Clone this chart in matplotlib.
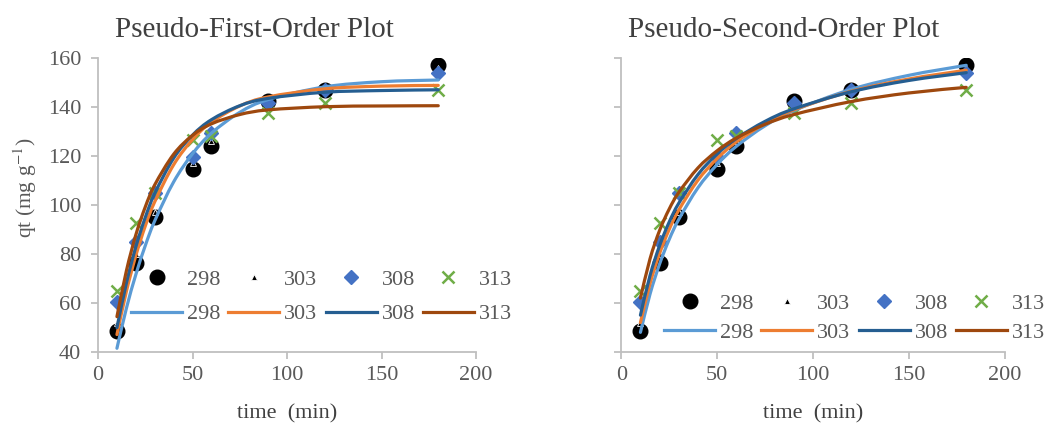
import numpy as np
import matplotlib
matplotlib.use("Agg")
import matplotlib.pyplot as plt
from matplotlib.path import Path
from matplotlib.patches import PathPatch
from matplotlib.lines import Line2D


# Contact times (min) of the measurements
TIME = [10, 20, 30, 50, 60, 90, 120, 180]
TEMPS = ["298", "303", "308", "313"]

# Measured qt (mg/g) for each temperature
QT_298 = [48.5, 76.5, 95, 114.5, 124, 142.5, 147, 157]
QT_303 = [52, 80, 97, 117, 126, 142, 147, 156]
QT_308 = [60.5, 85, 105, 119.5, 129.5, 141.5, 147, 154]
QT_313 = [65, 92.5, 105, 126.5, 128, 137.5, 141.5, 147]

FIT_TIME = [10, 15, 20, 25, 30, 40, 50, 60, 75, 90, 120, 150, 180]

# Fitted qt, pseudo-first-order model
PFO_298 = [41.5, 57.8, 71.6, 83.4, 93.5, 109.4, 120.9, 129.3, 137.8, 143.0,
           148.2, 150.3, 151.0]
PFO_303 = [47.1, 64.7, 79.3, 91.4, 101.3, 116.4, 126.7, 133.8, 140.4, 144.1,
           147.4, 148.5, 148.8]
PFO_308 = [49.9, 68.1, 82.9, 94.9, 104.7, 119.1, 128.5, 134.8, 140.5, 143.5,
           146.0, 146.7, 147.0]
PFO_313 = [54.4, 73.1, 87.8, 99.2, 108.2, 120.7, 128.4, 133.1, 136.9, 138.8,
           140.1, 140.4, 140.5]

# Fitted qt, pseudo-second-order model
PSO_298 = [48.0, 63.6, 75.9, 85.9, 94.1, 107.0, 116.5, 123.9, 132.3, 138.5,
           147.2, 152.9, 157.0]
PSO_303 = [52.0, 67.9, 80.2, 90.0, 97.9, 110.1, 118.9, 125.7, 133.2, 138.8,
           146.4, 151.4, 155.0]
PSO_308 = [55.0, 71.2, 83.4, 93.0, 100.7, 112.4, 120.8, 127.1, 134.1, 139.2,
           146.2, 150.8, 154.0]
PSO_313 = [62.0, 78.0, 89.6, 98.3, 105.1, 115.1, 122.1, 127.3, 132.9, 136.9,
           142.2, 145.7, 148.0]

MEASURED = [QT_298, QT_303, QT_308, QT_313]
PFO_FITS = [PFO_298, PFO_303, PFO_308, PFO_313]
PSO_FITS = [PSO_298, PSO_303, PSO_308, PSO_313]

LINE_COLORS = ["#5B9BD5", "#ED7D31", "#255E91", "#9E480E"]
TEXT_GRAY = "#595959"
AXIS_GRAY = "#BFBFBF"

plt.rcParams["font.family"] = "Liberation Serif"
plt.rcParams["mathtext.fontset"] = "stix"


def smooth_path(x, y):
    """
    Excel-style smoothed line: cubic bezier segments through the points
    """
    pts = np.column_stack([x, y]).astype(float)
    n = len(pts)
    verts = [pts[0]]
    codes = [Path.MOVETO]
    for i in range(n - 1):
        p0 = pts[i - 1] if i > 0 else pts[i]
        p1 = pts[i]
        p2 = pts[i + 1]
        p3 = pts[i + 2] if i + 2 < n else pts[i + 1]
        verts += [p1 + (p2 - p0) / 6, p2 - (p3 - p1) / 6, p2]
        codes += [Path.CURVE4] * 3
    return Path(verts, codes)


def draw_panel(ax, fits, show_ylabels):
    """
    Draw the measured points and the fitted curves on one axes
    """
    sc1, = ax.plot(TIME, MEASURED[0], "o", color="black", ms=10.5, zorder=3)
    sc2, = ax.plot(TIME, MEASURED[1], "^", color="black", ms=5,
                   mec="white", mew=0.6, zorder=3)
    sc3, = ax.plot(TIME, MEASURED[2], "D", color="#4472C4", ms=7, zorder=3)
    sc4, = ax.plot(TIME, MEASURED[3], "x", color="#70AD47", ms=9, mew=1.8,
                   zorder=3)
    markers = [sc1, sc2, sc3, sc4]

    for fit, col in zip(fits, LINE_COLORS):
        patch = PathPatch(smooth_path(FIT_TIME, fit), fill=False,
                          edgecolor=col, lw=2.3, capstyle="round",
                          transform=ax.transData, zorder=4)
        ax.add_patch(patch)

    lines = [Line2D([], [], color=c, lw=2.3) for c in LINE_COLORS]
    handles = []
    for m, l in zip(markers, lines):
        handles += [m, l]

    ax.set_xlim(0, 200)
    ax.set_ylim(40, 160)
    ax.set_xticks(range(0, 201, 50))
    ax.set_yticks(range(40, 161, 20))
    for side in ["top", "right"]:
        ax.spines[side].set_visible(False)
    for side in ["left", "bottom"]:
        ax.spines[side].set_color(AXIS_GRAY)
        ax.spines[side].set_linewidth(1.3)
    ax.tick_params(colors=AXIS_GRAY, labelcolor=TEXT_GRAY, labelsize=16,
                   length=5, width=1.3, direction="out")
    ax.tick_params(axis="x", pad=5)
    ax.tick_params(axis="y", pad=7)
    if not show_ylabels:
        ax.tick_params(axis="y", labelleft=False)
    ax.set_xlabel("time  (min)", fontsize=16, color="#404040", labelpad=14)
    return handles


FIG = plt.figure(figsize=(10.53, 4.23), dpi=100)
AX1 = FIG.add_axes([0.0931, 0.168, 0.359, 0.695])
AX2 = FIG.add_axes([0.590, 0.168, 0.364, 0.695])

H1 = draw_panel(AX1, PFO_FITS, True)
H2 = draw_panel(AX2, PSO_FITS, False)

LABELS = []
for t in TEMPS:
    LABELS += [t, t]

AX1.legend(H1, LABELS, ncol=4, frameon=False, fontsize=16,
           labelcolor=TEXT_GRAY, loc="upper left",
           bbox_to_anchor=(131 / 1053, 1 - 269 / 423),
           bbox_transform=FIG.transFigure, borderpad=0, borderaxespad=0,
           handlelength=2.3, handletextpad=0.22, columnspacing=0.36,
           labelspacing=0.64)
AX2.legend(H2, LABELS, ncol=4, frameon=False, fontsize=16,
           labelcolor=TEXT_GRAY, loc="upper left",
           bbox_to_anchor=(664 / 1053, 1 - 293 / 423),
           bbox_transform=FIG.transFigure, borderpad=0, borderaxespad=0,
           handlelength=2.3, handletextpad=0.22, columnspacing=0.36,
           labelspacing=0.41)

FIG.text(115 / 1053, 1 - 30 / 423, "Pseudo-First-Order Plot", fontsize=21,
         color="#404040", ha="left", va="center")
FIG.text(628 / 1053, 1 - 30 / 423, "Pseudo-Second-Order Plot", fontsize=21,
         color="#404040", ha="left", va="center")
FIG.text(25 / 1053, 1 - 188 / 423, "qt (mg g$^{-1}$)", fontsize=15.5,
         color=TEXT_GRAY, rotation=90, ha="center", va="center")

FIG.savefig("out.png", dpi=100)
